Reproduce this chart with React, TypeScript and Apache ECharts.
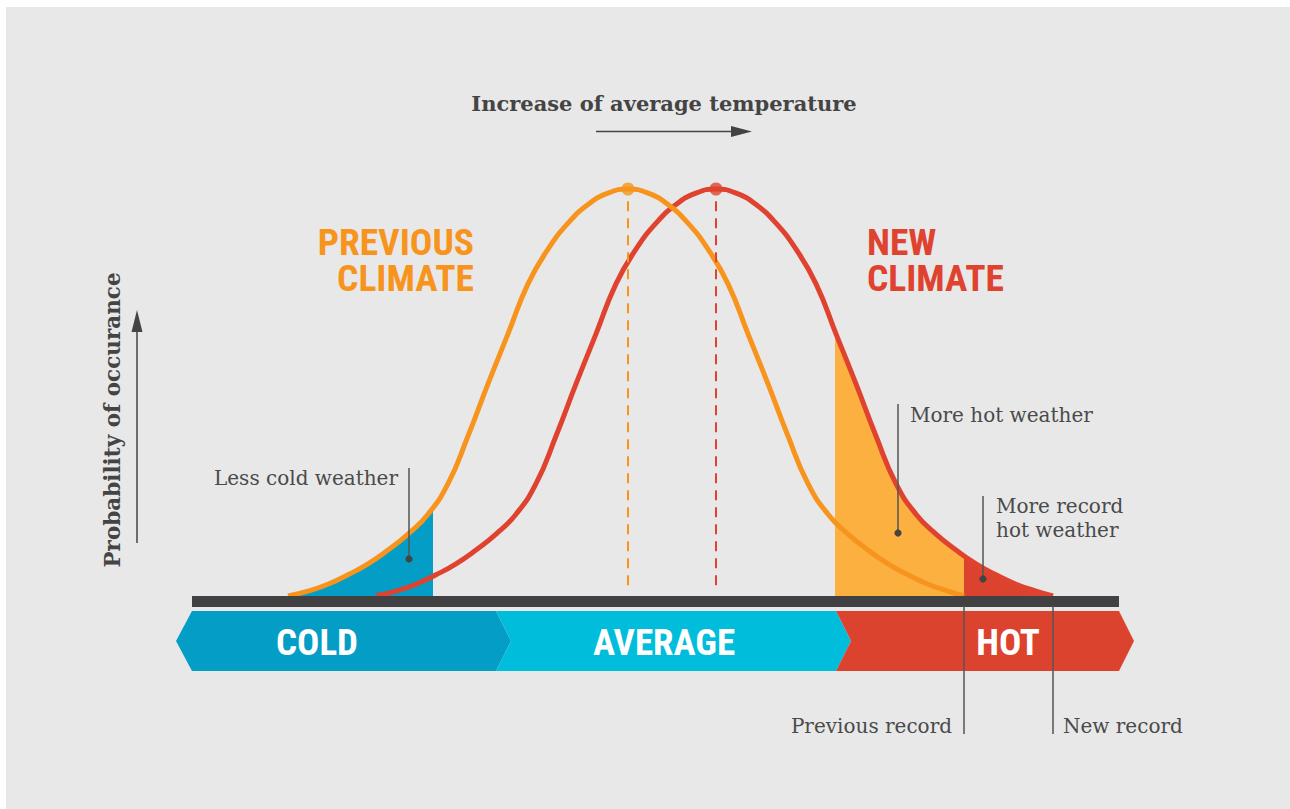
import React, { useEffect, useRef } from "react";
import * as echarts from "echarts";

// Temperature axis (arbitrary units) and probability axis (% of peak)
const tempMin = 0;
const tempMax = 92.7;
const probMin = 0;
const probMax = 100;

// Previous climate curve
const previousX = [9.6, 11.6, 13.6, 15.6, 17.6, 19.6, 21.6, 23.6, 25.6, 27.6, 29.6, 31.6, 33.6, 35.6, 37.6, 39.6, 41.6, 43.6, 45.6, 47.6, 49.6, 51.6, 53.6, 55.6, 57.6, 59.6, 61.6, 63.6, 65.6, 67.6, 69.6, 71.6, 73.6, 75.6, 77.2];
const previousY = [0, 1.2, 2.9, 5.2, 7.9, 11.3, 15.2, 20.1, 27.6, 39.3, 52.1, 64.4, 76.7, 85.2, 91.6, 96.2, 99.0, 100, 99.0, 96.2, 91.6, 85.2, 76.7, 64.4, 52.1, 39.3, 27.6, 20.1, 15.2, 11.3, 7.9, 5.2, 2.9, 1.2, 0];

// New climate curve
const newX = [18.4, 20.4, 22.4, 24.4, 26.4, 28.4, 30.4, 32.4, 34.4, 36.4, 38.4, 40.4, 42.4, 44.4, 46.4, 48.4, 50.4, 52.4, 54.4, 56.4, 58.4, 60.4, 62.4, 64.4, 66.4, 68.4, 70.4, 72.4, 74.4, 76.4, 78.4, 80.4, 82.4, 84.4, 86.1];
const newY = [0, 1.2, 2.9, 5.2, 7.9, 11.3, 15.2, 20.1, 27.6, 39.3, 52.1, 64.4, 76.7, 85.2, 91.6, 96.2, 99.0, 100, 99.0, 96.2, 91.6, 85.2, 76.7, 64.4, 52.1, 39.3, 27.6, 20.1, 15.2, 11.3, 7.9, 5.2, 2.9, 1.2, 0];

const previousMean = 43.6;
const newMean = 52.4;
const lessColdEnd = 24.1;
const moreHotStart = 64.3;
const previousRecord = 77.2;
const newRecord = 86.1;

// Temperature bands
const bandNames = ["COLD", "AVERAGE", "HOT"];
const bandStart = [0, 30.4, 64.4];
const bandEnd = [30.4, 64.4, 92.7];
const bandLabelAt = [12.5, 47.2, 81.6];

const C = {
  orange: "#f7941d",
  red: "#df4330",
  orangeFill: "#fbb040",
  blue: "#049dc5",
  cyan: "#00bddb",
  hot: "#dc432e",
  bar: "#414042",
  text: "#4a4a4a",
  none: "rgba(232,232,232,0)",
};
const bandColors = [C.blue, C.cyan, C.hot];

const pairs = (xs: number[], ys: number[]) => xs.map((x, i) => [x, ys[i]]);

// horizontal gradient with hard stops, in the area's own bounding box (fractions of its data span)
const sectionFill = (xs: number[], cuts: number[], colors: string[]) => {
  const lo = xs[0];
  const hi = xs[xs.length - 1];
  const stops: any[] = [];
  let prev = 0;
  colors.forEach((c, i) => {
    const end = i < cuts.length ? (cuts[i] - lo) / (hi - lo) : 1;
    stops.push({ offset: prev, color: c }, { offset: end, color: c });
    prev = end;
  });
  return new echarts.graphic.LinearGradient(0, 0, 1, 0, stops, false);
};

const SERIF = '"DejaVu Serif", serif';
const COND = '"Roboto Condensed", "DejaVu Sans Condensed", "Liberation Sans Narrow", Roboto, sans-serif';

export default function App() {
  const ref = useRef<HTMLDivElement>(null);
  useEffect(() => {
    if (!ref.current) return;
    const chart = echarts.init(ref.current, undefined, { renderer: "svg" });

    const labelText = (x: number, y: number, text: string, align: string, font: string, fill: string, extra: any = {}, lineHeight?: number) => ({
      type: "text",
      x,
      y,
      z: 100,
      ...extra,
      style: { text, align, verticalAlign: "middle", font, fill, ...(lineHeight ? { lineHeight } : {}) },
    });
    const vline = (x: number, y1: number, y2: number, w = 1.5) => ({
      type: "line",
      z: 100,
      shape: { x1: x, y1, x2: x, y2 },
      style: { stroke: "#555", lineWidth: w },
    });
    const dot = (x: number, y: number) => ({
      type: "circle",
      z: 100,
      shape: { cx: x, cy: y, r: 3.6 },
      style: { fill: "#444" },
    });

    const labelFont = `20px ${SERIF}`;
    const bigFont = `bold 36px ${COND}`;
    const wide = { scaleX: 1.04 };

    chart.setOption({
      animation: false,
      grid: { left: 192, width: 927, top: 189, height: 407, containLabel: false },
      xAxis: { type: "value", min: tempMin, max: tempMax, show: false, splitLine: { show: false } },
      yAxis: { type: "value", min: probMin, max: probMax, show: false, splitLine: { show: false } },
      series: [
        {
          type: "line",
          data: pairs(previousX, previousY),
          smooth: true,
          symbol: "none",
          clip: false,
          lineStyle: { width: 0 },
          areaStyle: { opacity: 1, color: sectionFill(previousX, [lessColdEnd], [C.blue, C.none]) },
          silent: true,
          z: 1,
        },
        {
          type: "line",
          data: pairs(newX, newY),
          smooth: true,
          symbol: "none",
          clip: false,
          lineStyle: { width: 0 },
          areaStyle: {
            opacity: 1,
            color: sectionFill(newX, [moreHotStart, previousRecord], [C.none, C.orangeFill, C.hot]),
          },
          silent: true,
          z: 1,
        },
        {
          type: "line",
          data: pairs(newX, newY),
          smooth: true,
          symbol: "none",
          clip: false,
          lineStyle: { color: C.red, width: 5 },
          z: 2,
        },
        {
          type: "line",
          data: pairs(previousX, previousY),
          smooth: true,
          symbol: "none",
          clip: false,
          lineStyle: { color: C.orange, width: 5 },
          z: 3,
        },
        {
          type: "line",
          data: [[previousMean, 97], [previousMean, 1.5]],
          symbol: "none",
          clip: false,
          lineStyle: { color: C.orange, width: 2, type: [10, 7] },
          z: 3,
        },
        {
          type: "line",
          data: [[newMean, 97], [newMean, 1.5]],
          symbol: "none",
          clip: false,
          lineStyle: { color: C.red, width: 2, type: [10, 7] },
          z: 3,
        },
        {
          type: "scatter",
          data: [[previousMean, 100]],
          symbolSize: 13,
          itemStyle: { color: C.orange },
          clip: false,
          z: 4,
        },
        {
          type: "scatter",
          data: [[newMean, 100]],
          symbolSize: 13,
          itemStyle: { color: C.red },
          clip: false,
          z: 4,
        },
        {
          // baseline bar
          type: "custom",
          clip: false,
          z: 5,
          data: [[tempMin, tempMax]],
          renderItem: (params: any, api: any) => {
            const p0 = api.coord([api.value(0), 0]);
            const p1 = api.coord([api.value(1), 0]);
            return {
              type: "rect",
              shape: { x: p0[0], y: p0[1], width: p1[0] - p0[0], height: 11 },
              style: { fill: C.bar },
            };
          },
        },
        {
          type: "custom",
          clip: false,
          z: 6,
          data: bandStart.map((s, i) => [s, bandEnd[i], bandLabelAt[i]]),
          renderItem: (params: any, api: any) => {
            const i = params.dataIndex;
            const p0 = api.coord([api.value(0), 0]);
            const p1 = api.coord([api.value(1), 0]);
            const pl = api.coord([api.value(2), 0]);
            const x0 = p0[0];
            const x1 = p1[0];
            const top = p0[1] + 15;
            const bot = p0[1] + 75;
            const mid = (top + bot) / 2;
            const tip = 15;
            const points =
              i === 0
                ? [[x0 - 16, mid], [x0, top], [x1, top], [x1 + tip, mid], [x1, bot], [x0, bot]]
                : [[x0, top], [x1, top], [x1 + tip, mid], [x1, bot], [x0, bot], [x0 + tip, mid]];
            return {
              type: "group",
              children: [
                { type: "polygon", shape: { points }, style: { fill: bandColors[i] } },
                {
                  type: "text",
                  style: {
                    text: bandNames[i],
                    x: pl[0],
                    y: mid + 1,
                    align: "center",
                    verticalAlign: "middle",
                    fill: "#ffffff",
                    font: `bold 37px ${COND}`,
                  },
                },
              ],
            };
          },
        },
      ],
      graphic: [
        labelText(664, 103, "Increase of average temperature", "center", `bold 21px ${SERIF}`, "#444"),
        { type: "line", z: 100, shape: { x1: 596, y1: 131.5, x2: 736, y2: 131.5 }, style: { stroke: "#444", lineWidth: 1.5 } },
        { type: "polygon", z: 100, shape: { points: [[731, 126], [752, 131.5], [731, 137]] }, style: { fill: "#444" } },
        labelText(112, 420, "Probability of occurance", "center", `bold 21.5px ${SERIF}`, "#444", { rotation: Math.PI / 2 }),
        { type: "line", z: 100, shape: { x1: 137, y1: 543, x2: 137, y2: 328 }, style: { stroke: "#444", lineWidth: 1.5 } },
        { type: "polygon", z: 100, shape: { points: [[131.5, 332], [137, 310], [142.5, 332]] }, style: { fill: "#444" } },
        labelText(474, 243, "PREVIOUS", "right", bigFont, C.orange, wide),
        labelText(474, 279, "CLIMATE", "right", bigFont, C.orange, wide),
        labelText(867, 243, "NEW", "left", bigFont, C.red, wide),
        labelText(867, 279, "CLIMATE", "left", bigFont, C.red, wide),
        labelText(398, 478, "Less cold weather", "right", labelFont, C.text),
        vline(409, 468, 559),
        dot(409, 559),
        labelText(910, 415, "More hot weather", "left", labelFont, C.text),
        vline(898, 404, 533),
        dot(898, 533),
        labelText(996, 518, "More record\nhot weather", "left", labelFont, C.text, {}, 24),
        vline(983, 496, 579),
        dot(983, 579),
        vline(964, 606, 734),
        labelText(952, 726, "Previous record", "right", labelFont, C.text),
        vline(1053, 606, 734),
        labelText(1063, 726, "New record", "left", labelFont, C.text),
      ],
    });
    return () => chart.dispose();
  }, []);

  return (
    <div style={{ position: "absolute", left: 0, top: 0, width: 1290, height: 809, background: "#ffffff" }}>
      <div style={{ position: "absolute", left: 6, top: 7, width: 1284, height: 802, background: "#e8e8e8" }} />
      <div ref={ref} style={{ position: "absolute", left: 0, top: 0, width: 1290, height: 809 }} />
    </div>
  );
}
